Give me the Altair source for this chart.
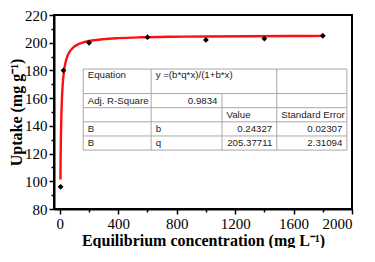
import altair as alt
import pandas as pd

# measured data points
conc = [5, 25, 200, 600, 1000, 1400, 1800]
uptake = [96, 180, 200, 204, 202, 203, 205]

# fitted (Langmuir) curve
fit_x = [4, 5, 6, 7, 8, 10, 12, 15, 20, 25, 30, 40, 50, 65, 80, 100, 130, 170,
         220, 300, 400, 550, 750, 1000, 1300, 1600, 1800]
fit_y = [101.3, 112.7, 121.9, 129.4, 135.7, 145.5, 153.0, 161.2, 170.4, 176.4,
         180.6, 186.2, 189.8, 193.2, 195.3, 197.3, 199.1, 200.5, 201.6, 202.6,
         203.3, 203.9, 204.3, 204.5, 204.7, 204.85, 204.9]

x_ticks = list(range(0, 2001, 200))
y_ticks = list(range(80, 221, 10))

# fit-result table (layout in data units of the plot)
col_edges = [160, 625, 1110, 1485, 1965]
row_edges = [181, 163.3, 153.1, 142.9, 132.7, 122.5]
row_text_y = [176.8, 158.2, 148.0, 137.8, 127.6]
cells = [  # row, col, text, align
    (0, 0, "Equation", "left"), (0, 1, "y =(b*q*x)/(1+b*x)", "left"),
    (1, 0, "Adj. R-Square", "left"), (1, 1, "0.9834", "right"),
    (2, 2, "Value", "left"), (2, 3, "Standard Error", "left"),
    (3, 0, "B", "left"), (3, 1, "b", "left"), (3, 2, "0.24327", "right"), (3, 3, "0.02307", "right"),
    (4, 0, "B", "left"), (4, 1, "q", "left"), (4, 2, "205.37711", "right"), (4, 3, "2.31094", "right"),
]

pts = pd.DataFrame({"x": conc, "y": uptake})
fit = pd.DataFrame({"x": fit_x, "y": fit_y})

hl = pd.DataFrame({"x": [col_edges[0]] * len(row_edges), "x2": [col_edges[-1]] * len(row_edges),
                   "y": row_edges, "y2": row_edges})
vl = pd.DataFrame({"x": col_edges, "x2": col_edges,
                   "y": [row_edges[0], row_edges[0], row_edges[1], row_edges[0], row_edges[0]],
                   "y2": [row_edges[-1]] * len(col_edges)})

rows = []
for r, c, t, a in cells:
    xx = col_edges[c] if a == "left" else col_edges[c + 1]
    rows.append({"x": xx, "y": row_text_y[r], "t": t, "a": a})
cell_df = pd.DataFrame(rows)

xscale = alt.Scale(domain=[-40, 2000], nice=False, zero=False)
yscale = alt.Scale(domain=[80, 220], nice=False, zero=False)

SERIF = "Liberation Serif"

xaxis = alt.Axis(values=x_ticks, format="d", title="Equilibrium concentration (mg L⁻¹)",
                 labelExpr="datum.value % 400 === 0 ? datum.label : ''",
                 tickSize={"condition": {"test": "datum.value % 400 === 0", "value": 5}, "value": 3},
                 labelFont=SERIF, labelFontSize=15, titleFont=SERIF,
                 labelPadding=2, titlePadding=1)
yaxis = alt.Axis(values=y_ticks, format="d", title="Uptake (mg g⁻¹)",
                 labelExpr="datum.value % 20 === 0 ? datum.label : ''",
                 tickSize={"condition": {"test": "datum.value % 20 === 0", "value": 5}, "value": 3},
                 labelFont=SERIF, labelFontSize=15, titleFont=SERIF,
                 labelPadding=2, titlePadding=0)

X = alt.X("x:Q", scale=xscale, axis=xaxis)
Y = alt.Y("y:Q", scale=yscale, axis=yaxis)

line = alt.Chart(fit).mark_line(color="#ff1010", strokeWidth=2.4, interpolate="monotone").encode(x=X, y=Y)
dots = alt.Chart(pts).mark_point(shape="diamond", filled=True, color="black", size=34, opacity=1).encode(x=X, y=Y)

hrules = alt.Chart(hl).mark_rule(color="#a8a8a8", strokeWidth=1).encode(x=X, x2="x2:Q", y=Y, y2="y2:Q")
vrules = alt.Chart(vl).mark_rule(color="#a8a8a8", strokeWidth=1).encode(x=X, x2="x2:Q", y=Y, y2="y2:Q")

txt_left = alt.Chart(cell_df).transform_filter("datum.a === 'left'").mark_text(
    align="left", baseline="middle", dx=4.5, font="Liberation Sans", fontSize=9.7, color="#222"
).encode(x=X, y=Y, text="t:N")
txt_right = alt.Chart(cell_df).transform_filter("datum.a === 'right'").mark_text(
    align="right", baseline="middle", dx=-4.5, font="Liberation Sans", fontSize=9.7, color="#222"
).encode(x=X, y=Y, text="t:N")

chart = alt.layer(hrules, vrules, txt_left, txt_right, line, dots).properties(
    width=298, height=194,
    padding={"left": 46, "top": 7, "right": 15, "bottom": 39},
    autosize=alt.AutoSizeParams(type="none"),
    background="white",
).configure_view(
    stroke="black", strokeWidth=2
).configure_axis(
    grid=False, domainColor="black", domainWidth=2, tickColor="black", tickWidth=1.5,
    labelFont=SERIF, labelFontSize=15, labelColor="black",
    titleFont=SERIF, titleFontSize=16, titleFontWeight="bold", titleColor="black",
)

chart.save("out.html", embed_options={"renderer": "svg", "actions": False})
